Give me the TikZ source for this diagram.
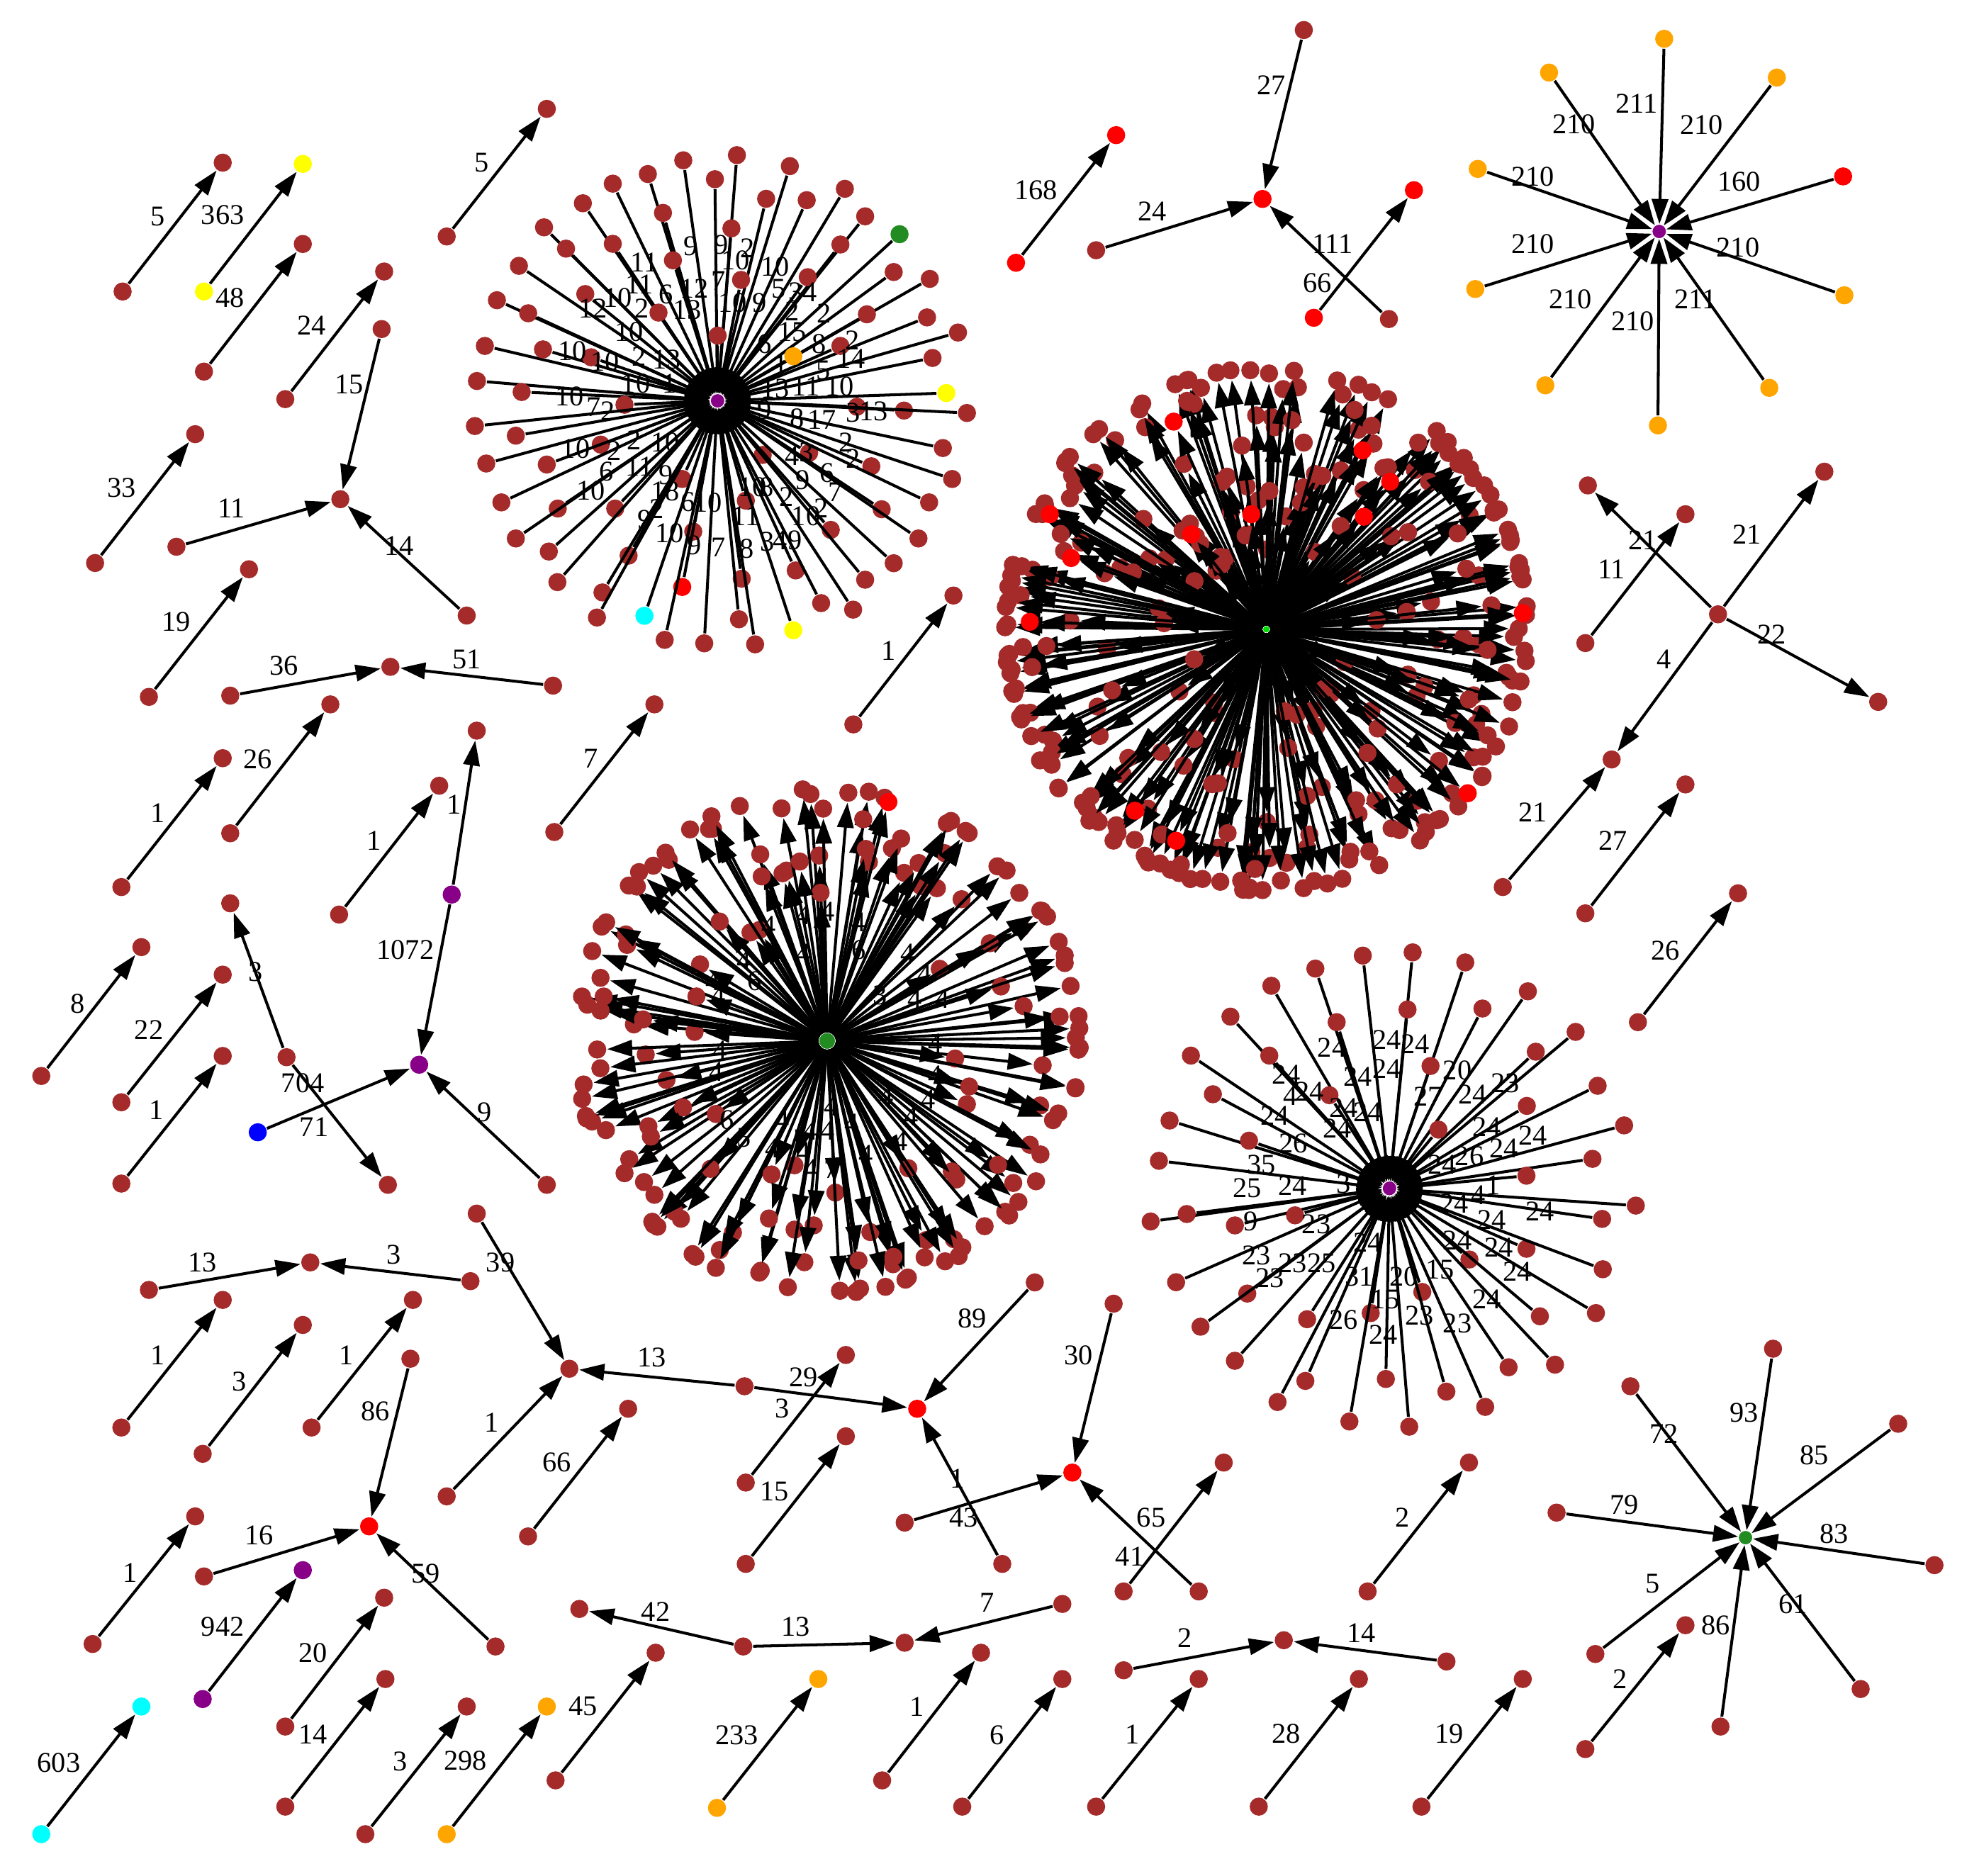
\documentclass[tikz,border=0pt]{standalone}
\usepackage{fontspec}
\setmainfont{Liberation Serif}
\usetikzlibrary{arrows.meta}
\definecolor{nbrown}{HTML}{A52A2A}
\definecolor{nred}{HTML}{FF0000}
\definecolor{norange}{HTML}{FFA500}
\definecolor{nyellow}{HTML}{FFFF00}
\definecolor{npurple}{HTML}{880088}
\definecolor{ngreen}{HTML}{228B22}
\definecolor{nlime}{HTML}{00DD00}
\definecolor{ncyan}{HTML}{00FFFF}
\definecolor{nblue}{HTML}{0000FF}
\tikzset{
 gdot/.style={circle,inner sep=0pt,minimum size=1.45mm,draw=none},
 nd/.style={gdot,fill=nbrown},
 nr/.style={gdot,fill=nred},
 no/.style={gdot,fill=norange},
 ny/.style={gdot,fill=nyellow},
 np/.style={gdot,fill=npurple},
 ng/.style={gdot,fill=ngreen},
 nc/.style={gdot,fill=ncyan},
 nb/.style={gdot,fill=nblue},
 hubsz/.style={minimum size=1.05mm},
 arr/.style={line width=0.65pt,-{Triangle[length=2mm,width=1.3mm]}},
 lab/.style={inner sep=0pt,font=\fontsize{6.5}{7}\selectfont}
}
\newcommand\gpair[7]{%
 \node[#6] (#1a) at (#2) {};
 \node[#7] (#1b) at (#3) {};
 \draw[arr] (#1a) -- (#1b);
 \node[lab] (#1l) at (#4) {#5};}
\begin{document}
\begin{tikzpicture}[x=0.01cm,y=-0.01cm]
\path[use as bounding box,fill=white] (0,0) rectangle (1568,1499);

% ---------------- cluster B (right, outward arrows)
\pgfmathsetseed{4321}
\node[gdot,fill=nlime,minimum size=0.5mm] (B0) at (1012,503) {};
\foreach \i in {1,...,285}{
 \pgfmathsetmacro\ang{360*mod(\i*0.381966,1)+4*rand}
 \pgfmathsetmacro\u{rnd}
 \pgfmathsetmacro\rr{209-150*\u*\u*\u}
 \pgfmathsetmacro\px{1012+\rr*cos(\ang)}
 \pgfmathsetmacro\py{503+\rr*sin(\ang)}
 \node[nd] (b\i) at (\px,\py) {};
 \draw[arr] (B0) -- (b\i);
}
\foreach \x/\y [count=\k] in {938/337,1089/360,1111/385,839/411,1000/411,1090/413,952/427,856/446,823/497,1217/490,1173/634,907/648,940/672}{
 \node[nr] (br\k) at (\x,\y) {};
 \draw[arr] (B0) -- (br\k);
}
\node[gdot,fill=nlime,minimum size=0.5mm] (B0b) at (B0) {};

% ---------------- cluster C (middle, outward arrows)
\pgfmathsetseed{987}
\node[ng,minimum size=1.25mm] (C0) at (661,832) {};
\foreach \i in {1,...,155}{
 \pgfmathsetmacro\ang{360*mod(\i*0.381966,1)+5*rand}
 \pgfmathsetmacro\u{rnd}
 \pgfmathsetmacro\rr{202-100*\u*\u*\u}
 \pgfmathsetmacro\px{661+\rr*cos(\ang)}
 \pgfmathsetmacro\py{832+\rr*sin(\ang)}
 \node[nd] (c\i) at (\px,\py) {};
 \draw[arr] (C0) -- (c\i);
}
\node[nr] (cr) at (710,641) {};
\draw[arr] (C0) -- (cr);
\node[ng,minimum size=1.25mm] (C0b) at (C0) {};
\begin{scope}[shift={(447.5,617.5)},x=0.002782cm,y=-0.002782cm]
\foreach \x/\y/\t [count=\k] in {700/410/4,770/400/4,860/430/4,600/440/4,530/540/4,700/520/4,860/510/6,440/600/4,455/640/4,1000/520/4,1050/580/4,1020/650/4,1100/650/4,460/800/4,1080/780/4,1080/870/4,450/860/4,940/930/4,1060/940/4,1010/990/4,780/960/4,840/1010/4,770/1030/4,720/1030/4,980/1060/4,610/1080/4,700/1090/4,880/1100/4,720/1140/4,780/1140/7,480/1000/6,530/1050/5,560/600/6,640/1000/4,920/640/3}
 {\node[lab] (cl\k) at (\x,\y) {\t};}
\end{scope}

% ---------------- cluster A (top, inward arrows)
\node[np,hubsz] (A0) at (573.4,320.3) {};
\begin{scope}[shift={(362.5,102)},x=0.002746cm,y=-0.002746cm]
\foreach \x/\y/\c [count=\k] in {668/95/nd,824/80/nd,978/112/nd,565/135/nd,760/150/nd,463/163/nd,909/207/nd,1027/211/nd,1138/178/nd,376/220/nd,609/248/nd,1197/258/nd,263/290/nd,808/293/nd,1297/310/ng,327/352/nd,463/338/nd,1125/340/nd,638/386/nd,190/402/nd,1280/420/nd,1385/440/nd,836/443/nd,1030/435/nd,126/502/nd,383/484/nd,217/540/nd,596/538/nd,1202/543/nd,1377/552/nd,768/605/nd,1467/596/nd,91/635/nd,260/645/nd,400/668/nd,1125/635/nd,988/665/no,1393/670/nd,68/737/nd,198/769/nd,1433/772/ny,497/806/nd,1173/812/nd,1310/823/nd,1493/830/nd,62/868/nd,181/896/nd,1423/932/nd,428/922/nd,899/952/nd,1034/946/nd,95/977/nd,271/980/nd,1215/985/nd,1450/1022/nd,665/1022/nd,139/1090/nd,303/1108/nd,470/1108/nd,850/1085/nd,1245/1110/nd,1383/1090/nd,1097/1170/nd,181/1195/nd,1352/1195/nd,697/1175/nd,277/1233/nd,509/1245/nd,995/1288/nd,838/1312/nd,1280/1267/nd,1197/1315/nd,302/1322/nd,665/1336/nr,433/1352/nd,1069/1383/nd,1162/1402/nd,417/1425/nd,555/1420/nc,830/1430/nd,988/1462/ny,614/1490/nd,729/1500/nd,877/1503/nd}
 {\node[\c] (a\k) at (\x,\y) {}; \draw[arr] (a\k) -- (A0);}
\node[np,hubsz] (A0b) at (768,795) {};
\foreach \x/\y/\t [count=\k] in {690/345/9,778/340/9,820/385/10,855/350/2,935/405/10,555/392/11,540/455/11,618/485/6,700/468/12,770/445/7,478/495/10,405/525/12,548/525/2,680/530/13,812/510/10,890/510/9,945/468/5,1015/478/34,985/535/2,1078/540/2,510/595/10,985/595/15,1063/630/8,1160/618/2,1155/672/14,345/650/10,440/680/10,540/665/2,620/675/13,905/630/6,952/690/1,1075/705/5,530/745/10,628/745/1,935/760/13,1025/752/11,1122/752/10,338/782/10,408/812/7,448/825/2,905/820/9,1000/845/8,1072/850/17,1162/830/3,1222/825/13,355/935/10,468/940/2,525/910/2,615/915/10,1142/915/2,1162/962/2,985/955/4,1025/945/3,445/1000/6,540/985/11,618/1010/9,400/1055/10,615/1058/18,682/1090/6,740/1090/10,870/1045/10,910/1045/8,968/1075/2,1015/1025/9,1085/1005/6,1110/1060/7,850/1130/11,1025/1130/10,1070/1108/2,590/1110/2,555/1140/9,628/1180/10,700/1215/9,770/1220/7,852/1225/8,913/1205/3,950/1200/4,992/1200/9}
 {\node[lab] (al\k) at (\x,\y) {\t};}
\end{scope}

% ---------------- cluster D (lower right, inward arrows)
\node[np,hubsz] (D0) at (1110.4,950.1) {};
\begin{scope}[shift={(906.4,747.7)},x=0.002746cm,y=-0.002601cm]
\foreach \x/\y [count=\k] in {665/62,810/52,963/83,527/102,399/155,795/228,1145/172,1013/225,280/250,589/267,1284/297,1168/358,165/370,393/370,862/402,1348/463,229/489,568/492,1142/525,103/570,885/598,1425/585,334/632,72/694,1333/688,1141/740,1459/832,48/881,153/858,293/893,468/862,1361/873,1141/965,975/998,1363/1028,122/1068,329/1103,838/1098,1343/1163,1180/1173,193/1205,503/1182,688/1163,293/1310,1224/1322,1089/1330,732/1366,498/1372,908/1405,417/1437,1021/1452,626/1497,800/1513}
 {\node[nd] (d\k) at (\x,\y) {}; \draw[arr] (d\k) -- (D0);}
\node[np,hubsz] (D0b) at (743,778) {};
\foreach \x/\y/\t [count=\k] in {575/345/24,735/322/24,818/335/24,442/428/24,650/435/24,735/410/24,940/415/20,455/495/4,510/480/24,855/495/27,985/490/24,1080/455/23,410/555/24,610/530/24,680/545/24,590/595/24,1025/590/24,1160/615/24,463/640/26,1075/655/24,975/680/26,895/705/24,370/705/35,328/778/25,460/770/24,610/765/3,1045/770/1,1000/800/4,930/825/24,1180/850/24,1040/875/24,340/880/9,530/890/23,940/940/24,1060/960/24,1115/1035/24,680/945/24,355/985/23,395/1055/23,460/1010/23,545/1010/25,655/1050/31,785/1050/20,890/1030/15,730/1120/15,610/1185/26,830/1170/23,940/1195/23,1025/1120/24,725/1230/24}
 {\node[lab] (dl\k) at (\x,\y) {\t};}
\end{scope}

% ---------------- orange star (top right)
\node[np,hubsz] (O0) at (1326,185) {};
\foreach \x/\y/\c/\lx/\ly/\t [count=\k] in {1330/31/no/1308/83/211,1238/58/no/1258/99/210,1420/62/no/1360/100/210,1181/135/no/1225/141/210,1473/141/nr/1390/145/160,1179/231/no/1225/195/210,1474/236/no/1389/198/210,1235/308/no/1255/239/210,1414/310/no/1355/239/211,1325/340/no/1305/257/210}
 {\node[\c] (o\k) at (\x,\y) {}; \draw[arr] (o\k) -- (O0); \node[lab] (ol\k) at (\lx,\ly) {\t};}
\node[np,hubsz] (O0b) at (O0) {};

% ---------------- green star (bottom right)
\node[ng,hubsz] (G0) at (1395,1229) {};
\foreach \x/\y/\lx/\ly/\t [count=\k] in {1303/1108/1330/1146/72,1417/1078/1394/1129/93,1517/1138/1450/1163/85,1546/1251/1466/1226/83,1487/1350/1433/1282/61,1375/1380/1371/1299/86,1275/1322/1321/1266/5,1244/1209/1298/1203/79}
 {\node[nd] (g\k) at (\x,\y) {}; \draw[arr] (g\k) -- (G0); \node[lab] (gl\k) at (\lx,\ly) {\t};}
\node[ng,hubsz] (G0b) at (G0) {};

% ---------------- simple pairs
\gpair{p1}{98,233}{178,130}{126,173}{5}{nd}{nd}
\gpair{p2}{163,233}{242,131}{178,172}{363}{ny}{ny}
\gpair{p3}{163,297}{242,195}{184,238}{48}{nd}{nd}
\gpair{p4}{228,319}{307,217}{249,260}{24}{nd}{nd}
\gpair{p5}{76,450}{156,347}{97,390}{33}{nd}{nd}
\gpair{p6}{119,557}{199,455}{141,497}{19}{nd}{nd}
\gpair{p7}{357,189}{437,87}{385,130}{5}{nd}{nd}
\gpair{p8}{97,709}{178,606}{126,650}{1}{nd}{nd}
\gpair{p9}{184,666}{264,563}{206,607}{26}{nd}{nd}
\gpair{p10}{443,665}{523,563}{472,606}{7}{nd}{nd}
\gpair{p11}{682,579}{762,476}{710,520}{1}{nd}{nd}
\gpair{p12}{271,731}{351,628}{299,672}{1}{nd}{nd}
\gpair{p13}{33,860}{113,757}{62,802}{8}{nd}{nd}
\gpair{p14}{97,881}{178,779}{119,823}{22}{nd}{nd}
\gpair{p15}{97,946}{178,844}{125,887}{1}{nd}{nd}
\gpair{p16}{97,1141}{178,1039}{126,1083}{1}{nd}{nd}
\gpair{p17}{162,1162}{242,1059}{191,1104}{3}{nd}{nd}
\gpair{p18}{249,1141}{330,1039}{277,1083}{1}{nd}{nd}
\gpair{p19}{596,1185}{676,1083}{642,1101}{29}{nd}{nd}
\gpair{p20}{422,1228}{502,1126}{445,1169}{66}{nd}{nd}
\gpair{p21}{596,1250}{676,1148}{619,1192}{15}{nd}{nd}
\gpair{p22}{898,1272}{978,1169}{903,1244}{41}{nd}{nd}
\gpair{p23}{74,1314}{156,1212}{104,1257}{1}{nd}{nd}
\gpair{p24}{162,1358}{242,1255}{178,1300}{942}{np}{np}
\gpair{p25}{228,1380}{307,1277}{250,1321}{20}{nd}{nd}
\gpair{p26}{228,1444}{308,1342}{250,1386}{14}{nd}{nd}
\gpair{p27}{33,1466}{113,1364}{47,1409}{603}{nc}{nc}
\gpair{p28}{292,1466}{373,1364}{320,1408}{3}{nd}{nd}
\gpair{p29}{357,1466}{437,1364}{372,1407}{298}{no}{no}
\gpair{p30}{444,1423}{524,1321}{466,1364}{45}{nd}{nd}
\gpair{p31}{573,1445}{654,1342}{589,1387}{233}{no}{no}
\gpair{p32}{705,1423}{784,1321}{733,1364}{1}{nd}{nd}
\gpair{p33}{769,1444}{849,1342}{797,1387}{6}{nd}{nd}
\gpair{p34}{876,1444}{958,1342}{905,1386}{1}{nd}{nd}
\gpair{p35}{1006,1444}{1086,1342}{1028,1386}{28}{nd}{nd}
\gpair{p36}{1136,1444}{1217,1342}{1158,1386}{19}{nd}{nd}
\gpair{p37}{1093,1272}{1174,1169}{1121,1213}{2}{nd}{nd}
\gpair{p38}{1309,817}{1389,714}{1331,760}{26}{nd}{nd}
\gpair{p39}{1267,730}{1347,627}{1289,672}{27}{nd}{nd}
\gpair{p40}{1267,514}{1347,411}{1288,455}{11}{nd}{nd}
\gpair{p41}{812,210}{892,108}{828,152}{168}{nr}{nr}
\gpair{p42}{1050,254}{1130,152}{1053,226}{66}{nr}{nr}
\gpair{p43}{1267,1398}{1347,1299}{1295,1342}{2}{nd}{nd}

% ---------------- small stars
\node[nd] (s1c) at (272,399) {};
\node[nd] (s1a) at (305,263) {}; \node[nd] (s1b) at (141,437) {}; \node[nd] (s1d) at (373,492) {};
\draw[arr] (s1a) -- (s1c); \draw[arr] (s1b) -- (s1c); \draw[arr] (s1d) -- (s1c);
\node[lab] (s1la) at (279,307) {15}; \node[lab] (s1lb) at (185,406) {11}; \node[lab] (s1ld) at (319,436) {14};

\node[nd] (s2c) at (312,533) {};
\node[nd] (s2a) at (184,556) {}; \node[nd] (s2b) at (442,548) {};
\draw[arr] (s2a) -- (s2c); \draw[arr] (s2b) -- (s2c);
\node[lab] (s2la) at (227,532) {36}; \node[lab] (s2lb) at (373,527) {51};

\node[np] (s3p) at (361,715) {}; \node[np] (s3q) at (335,851) {};
\node[nd] (s3t) at (381,584) {}; \node[nb] (s3b) at (206,905) {};
\node[nd] (s3r) at (437,947) {}; \node[nd] (s3m) at (229,845) {};
\node[nd] (s3u) at (184,722) {}; \node[nd] (s3v) at (310,947) {};
\draw[arr] (s3p) -- (s3t); \draw[arr] (s3p) -- (s3q);
\draw[arr] (s3b) -- (s3q); \draw[arr] (s3r) -- (s3q);
\draw[arr] (s3m) -- (s3u); \draw[arr] (s3m) -- (s3v);
\node[lab] (s3l1) at (363,643) {1}; \node[lab] (s3l2) at (324,759) {1072};
\node[lab] (s3l3) at (251,901) {71}; \node[lab] (s3l4) at (387,889) {9};
\node[lab] (s3l5) at (204,777) {3}; \node[lab] (s3l6) at (242,866) {704};

\node[nd] (s4c) at (248,1009) {};
\node[nd] (s4a) at (119,1031) {}; \node[nd] (s4b) at (376,1024) {};
\draw[arr] (s4a) -- (s4c); \draw[arr] (s4b) -- (s4c);
\node[lab] (s4la) at (162,1009) {13}; \node[lab] (s4lb) at (315,1003) {3};

\node[nd] (s5c) at (455,1094) {};
\node[nd] (s5a) at (381,970) {}; \node[nd] (s5b) at (357,1196) {};
\node[nd] (s5m) at (595,1108) {}; \node[nr] (s5r) at (733,1126) {};
\node[nd] (s5d) at (827,1025) {}; \node[nd] (s5e) at (801,1250) {};
\draw[arr] (s5a) -- (s5c); \draw[arr] (s5b) -- (s5c);
\draw[arr] (s5m) -- (s5c); \draw[arr] (s5m) -- (s5r);
\draw[arr] (s5d) -- (s5r); \draw[arr] (s5e) -- (s5r);
\node[lab] (s5l1) at (400,1009) {39}; \node[lab] (s5l2) at (393,1137) {1};
\node[lab] (s5l3) at (521,1085) {13}; \node[lab] (s5l4) at (625,1126) {3};
\node[lab] (s5l5) at (777,1054) {89}; \node[lab] (s5l6) at (765,1182) {1};

\node[nr] (s6c) at (857,1177) {};
\node[nd] (s6a) at (890,1042) {}; \node[nd] (s6b) at (723,1217) {}; \node[nd] (s6d) at (958,1272) {};
\draw[arr] (s6a) -- (s6c); \draw[arr] (s6b) -- (s6c); \draw[arr] (s6d) -- (s6c);
\node[lab] (s6la) at (862,1083) {30}; \node[lab] (s6lb) at (770,1213) {43}; \node[lab] (s6ld) at (920,1213) {65};

\node[nr] (s7c) at (295,1220) {};
\node[nd] (s7a) at (328,1086) {}; \node[nd] (s7b) at (163,1260) {}; \node[nd] (s7d) at (396,1316) {};
\draw[arr] (s7a) -- (s7c); \draw[arr] (s7b) -- (s7c); \draw[arr] (s7d) -- (s7c);
\node[lab] (s7la) at (300,1128) {86}; \node[lab] (s7lb) at (207,1227) {16}; \node[lab] (s7ld) at (340,1258) {59};

\node[nd] (s8m) at (594,1316) {}; \node[nd] (s8a) at (463,1286) {};
\node[nd] (s8t) at (723,1313) {}; \node[nd] (s8b) at (849,1282) {};
\draw[arr] (s8m) -- (s8a); \draw[arr] (s8m) -- (s8t); \draw[arr] (s8b) -- (s8t);
\node[lab] (s8la) at (524,1288) {42}; \node[lab] (s8lb) at (636,1300) {13}; \node[lab] (s8lc) at (789,1281) {7};

\node[nd] (s9c) at (1026,1311) {};
\node[nd] (s9a) at (898,1335) {}; \node[nd] (s9b) at (1156,1328) {};
\draw[arr] (s9a) -- (s9c); \draw[arr] (s9b) -- (s9c);
\node[lab] (s9la) at (947,1309) {2}; \node[lab] (s9lb) at (1088,1305) {14};

\node[nd] (sXc) at (1373,491) {};
\node[nd] (sXa) at (1269,388) {}; \node[nd] (sXb) at (1458,377) {};
\node[nd] (sXd) at (1501,561) {}; \node[nd] (sXy) at (1288,607) {}; \node[nd] (sXz) at (1201,709) {};
\draw[arr] (sXc) -- (sXa); \draw[arr] (sXc) -- (sXb); \draw[arr] (sXc) -- (sXd);
\draw[arr] (sXc) -- (sXy); \draw[arr] (sXz) -- (sXy);
\node[lab] (sXl1) at (1313,432) {21}; \node[lab] (sXl2) at (1396,427) {21};
\node[lab] (sXl3) at (1416,507) {22}; \node[lab] (sXl4) at (1330,527) {4};
\node[lab] (sXl5) at (1225,649) {21};

\node[nr] (sYc) at (1009,159) {};
\node[nd] (sYa) at (1042,24) {}; \node[nd] (sYb) at (876,200) {}; \node[nd] (sYd) at (1110,255) {};
\draw[arr] (sYa) -- (sYc); \draw[arr] (sYb) -- (sYc); \draw[arr] (sYd) -- (sYc);
\node[lab] (sYla) at (1016,68) {27}; \node[lab] (sYlb) at (921,169) {24}; \node[lab] (sYld) at (1065,195) {111};
\end{tikzpicture}
\end{document}
